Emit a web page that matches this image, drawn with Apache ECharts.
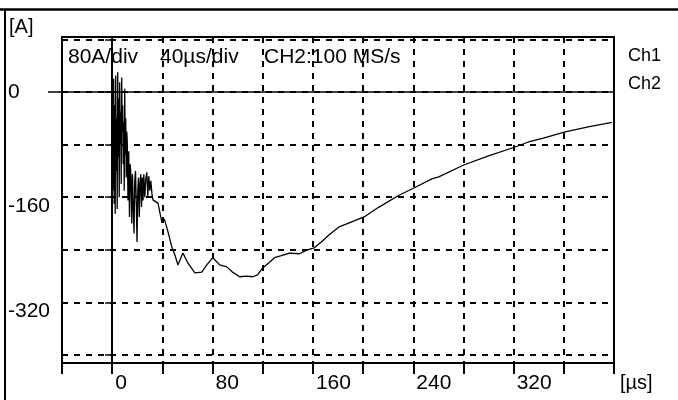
<!DOCTYPE html>
<html>
<head>
<meta charset="utf-8">
<script src="https://cdn.jsdelivr.net/npm/echarts@6/dist/echarts.min.js"></script>
<style>
  html, body { margin: 0; padding: 0; background: #fff; }
  #chart { width: 678px; height: 400px; }
</style>
</head>
<body>
<div id="chart"></div>
<script>
// scope trace, time in µs and current in A
var times = [
  0, 0.4, 0.8, 1.2, 1.6, 2.0, 2.4, 2.8, 3.2, 3.6, 4.0, 4.4, 4.8, 5.2, 5.6, 6.0,
  6.4, 6.8, 7.2, 7.6, 8.0, 8.4, 8.8, 9.2, 9.6, 10.0, 10.4, 10.8, 11.2, 11.6, 12.0,
  12.6, 13.2, 13.8, 14.4, 15.0, 15.6, 16.2, 16.8, 17.4, 18.0, 18.6, 19.2, 19.8,
  20.4, 21.0, 21.6, 22.2, 22.8, 23.4, 24.0, 24.6, 25.2, 26.0, 26.8, 27.6, 28.4,
  29.2, 30.0, 30.8, 31.7,
  32.5, 36.5, 39.7, 41.5, 43.7, 47.6, 50, 52.4, 56.4, 60.3, 65.9, 71.4, 75.4, 80.2,
  85.7, 91.3, 96, 101.6, 107.1, 112, 115.9, 119.8, 125.4, 129.4, 134.9, 141.3,
  149.2, 155.6, 161.1, 166.7, 173, 181, 184.9, 192.9, 200.8, 212.7, 228.6, 240.5,
  254.8, 260.3, 280.2, 300, 320.6, 331.8, 343.7, 360.3, 379.4, 398.4
];
var current = [
  0, -60, -150, 20, -170, -20, -185, 25, -120, -40, -178, 30, -100, -10, -160, 15,
  -80, -30, -140, 22, -60, -20, -110, -45, -150, 5, -95, -40, -130, -60, -75,
  -165, -90, -190, -110, -130, -200, -125, -175, -215, -135, -120, -170, -228,
  -150, -130, -190, -140, -125, -175, -130, -165, -125, -160, -132, -122, -158,
  -128, -150, -135, -155,
  -164, -169, -199, -193, -207, -236, -248, -263, -245, -260, -275, -274, -263, -252,
  -263, -266, -274, -281, -280, -281, -278, -268, -259, -252, -249, -245,
  -246, -240, -237, -228, -217, -205, -202, -196, -190, -175, -157, -146,
  -132, -129, -111, -97, -84, -76, -70, -61, -53, -46
];
var xTickLabels = [0, 80, 160, 240, 320];
var yTicks = [-400, -320, -240, -160, -80, 0, 80];
var yTickLabels = [0, -160, -320];

// the box runs a little past the -400 line and the top division
var Y_MIN = -412.2, Y_MAX = 83.7;
var X_MIN = -40, X_MAX = 400;

var FONT = "'Liberation Sans', Arial, sans-serif";
var chart = echarts.init(document.getElementById('chart'));

var black = '#000';

function dashed() {
  return { show: true, lineStyle: { color: black, width: 2, type: [6, 6] } };
}
function hidden() {
  return { show: false };
}

function label(text, x, y, size) {
  return {
    type: 'text', x: x, y: y, z: 10,
    style: { text: text, font: size + 'px ' + FONT, fill: black, verticalAlign: 'middle' }
  };
}

var option = {
  animation: false,
  backgroundColor: '#fff',
  // grid border is the scope frame
  grid: {
    left: 62, right: 64, top: 37, bottom: 37,
    show: true, borderColor: black, borderWidth: 2, backgroundColor: 'transparent'
  },
  xAxis: {
    type: 'value', min: X_MIN, max: X_MAX, interval: 40,
    axisLine: { show: true, onZero: false, lineStyle: { color: black, width: 2 } },
    axisTick: { show: true, length: 11, lineStyle: { color: black, width: 2 } },
    axisLabel: {
      interval: 0, margin: 10, align: 'left', padding: [0, 0, 0, 3],
      color: black, fontFamily: FONT, fontSize: 21,
      formatter: function (v) { return xTickLabels.indexOf(v) >= 0 ? String(v) : ''; }
    },
    splitLine: dashed()
  },
  yAxis: [
    {
      type: 'value', min: Y_MIN, max: Y_MAX,
      axisLine: hidden(),
      axisTick: { show: true, customValues: yTicks, length: 7, lineStyle: { color: black, width: 1.5 } },
      axisLabel: {
        customValues: yTickLabels, margin: 54, align: 'left', color: black,
        fontFamily: FONT, fontSize: 21,
        formatter: function (v) { return v === 0 ? '{z|0}' : '{d|' + v + '}'; },
        rich: {
          z: { fontFamily: FONT, fontSize: 21, color: black },
          d: { fontFamily: FONT, fontSize: 21, color: black, padding: [17, 0, 0, 0] }
        }
      },
      splitLine: dashed()
    },
    {
      // longer mark where the zero line starts
      type: 'value', position: 'left', min: Y_MIN, max: Y_MAX,
      axisLine: hidden(),
      axisTick: { show: true, customValues: [0], length: 14, lineStyle: { color: black, width: 1.5 } },
      axisLabel: hidden(), splitLine: hidden()
    }
  ],
  series: [
    {
      type: 'line',
      data: times.map(function (t, i) { return [t, current[i]]; }),
      showSymbol: false,
      lineStyle: { color: black, width: 1.3 },
      markLine: {
        silent: true, symbol: 'none', label: { show: false },
        lineStyle: { color: black, type: 'solid' },
        data: [
          { yAxis: 0, lineStyle: { width: 1.5 } },
          { xAxis: 0, lineStyle: { width: 2 } }
        ]
      }
    }
  ],
  graphic: [
    { type: 'line', shape: { x1: 0, y1: 9.5, x2: 678, y2: 9.5 }, style: { stroke: black, lineWidth: 2.5 } },
    { type: 'line', shape: { x1: 5, y1: 9, x2: 5, y2: 400 }, style: { stroke: black, lineWidth: 2 } },
    label('[A]', 9, 27, 20),
    label('[µs]', 620, 383, 20),
    label('80A/div', 68, 57, 21),
    label('40µs/div', 160, 57, 21),
    label('CH2:100 MS/s', 264, 57, 21),
    label('Ch1', 628, 56, 18),
    label('Ch2', 628, 84, 18)
  ]
};

chart.setOption(option);
</script>
</body>
</html>
